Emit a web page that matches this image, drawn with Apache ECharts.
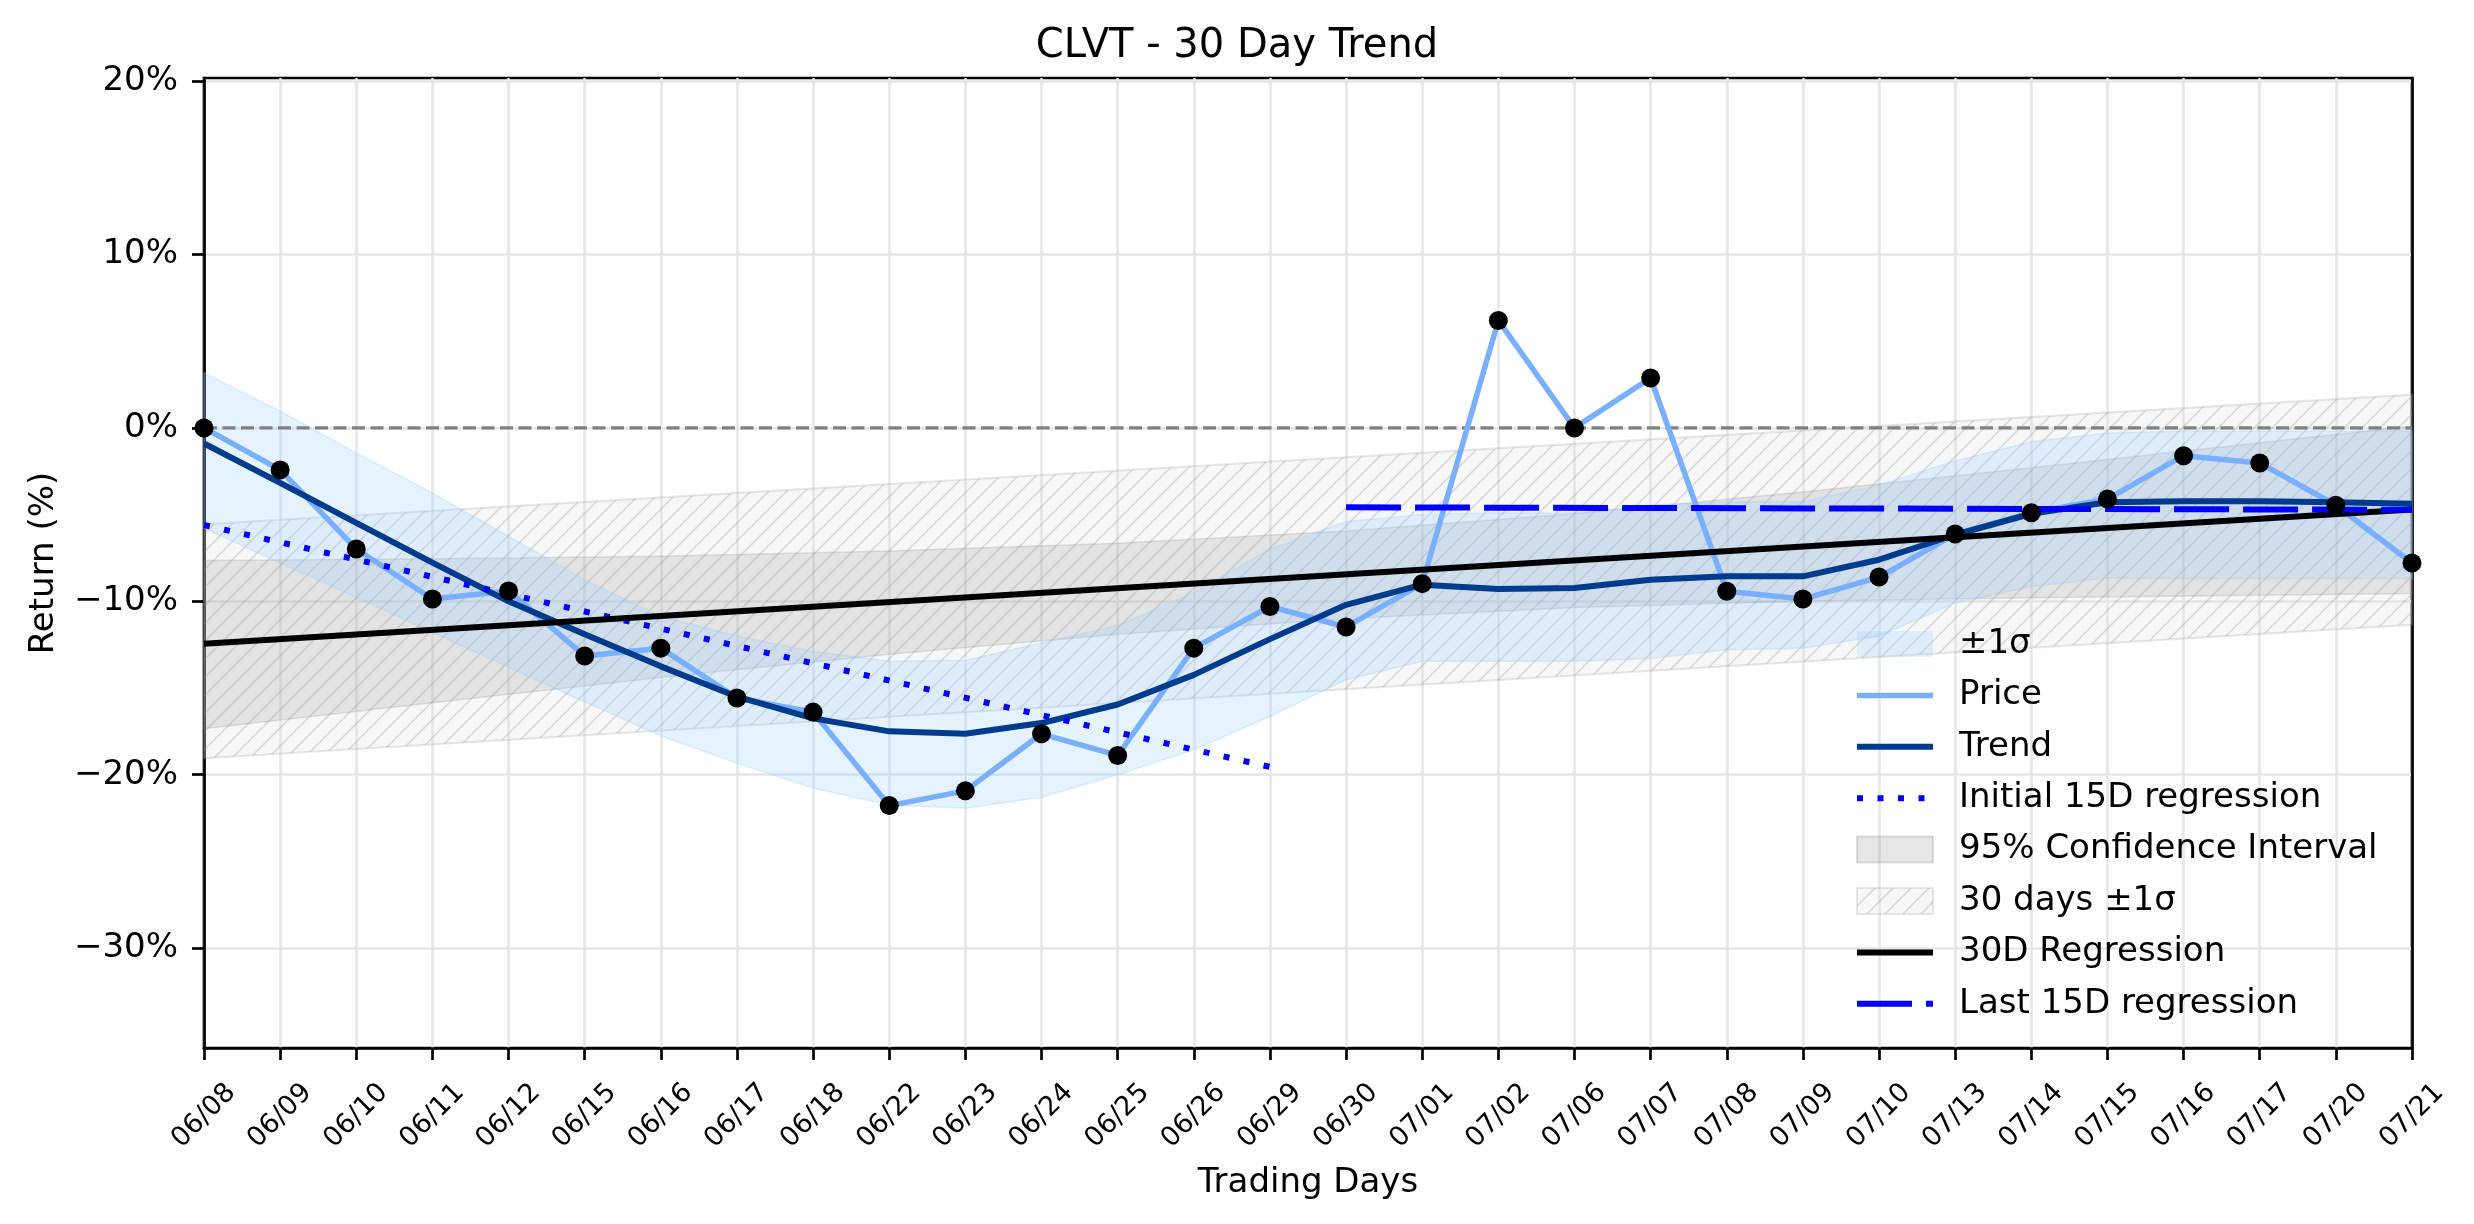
<!DOCTYPE html>
<html>
<head>
<meta charset="utf-8">
<title>CLVT - 30 Day Trend</title>
<script src="https://cdn.jsdelivr.net/npm/echarts@6.0.0/dist/echarts.min.js"></script>
<style>
  html, body { margin: 0; padding: 0; background: #fff; }
  #chart { width: 2474px; height: 1224px; }
</style>
</head>
<body>
<div id="chart"></div>
<script>
// trading days on the x axis
const dates = ['06/08', '06/09', '06/10', '06/11', '06/12', '06/15', '06/16', '06/17', '06/18', '06/22',
  '06/23', '06/24', '06/25', '06/26', '06/29', '06/30', '07/01', '07/02', '07/06', '07/07',
  '07/08', '07/09', '07/10', '07/13', '07/14', '07/15', '07/16', '07/17', '07/20', '07/21'];

// return (%)
const price = [0, -2.42, -6.98, -9.87, -9.4, -13.15, -12.7, -15.58, -16.39, -21.78,
  -20.93, -17.64, -18.89, -12.7, -10.3, -11.48, -8.98, 6.2, 0, 2.88,
  -9.42, -9.87, -8.6, -6.12, -4.89, -4.1, -1.6, -2.02, -4.46, -7.79];
const trend = [-0.9, -3.17, -5.48, -7.77, -10.0, -11.9, -13.75, -15.5, -16.75, -17.5,
  -17.64, -17.02, -15.95, -14.24, -12.18, -10.2, -9.04, -9.29, -9.23, -8.75,
  -8.56, -8.56, -7.6, -6.16, -4.95, -4.29, -4.23, -4.23, -4.29, -4.37];

// +-1 sigma band around the trend
const sigmaHigh = [3.17, 0.96, -1.44, -3.75, -6.25, -8.75, -10.87, -12.0, -12.9, -13.45,
  -13.4, -12.4, -11.4, -9.5, -7.0, -5.4, -5.0, -4.9, -4.9, -4.45,
  -4.26, -4.26, -3.3, -1.9, -0.8, -0.29, -0.19, -0.19, -0.19, -0.19];
const sigmaLow = [-5.77, -7.8, -9.77, -11.8, -13.8, -15.8, -17.75, -19.33, -20.77, -21.74,
  -21.93, -21.3, -20.0, -18.56, -16.64, -14.52, -13.46, -13.46, -13.46, -13.3,
  -12.8, -12.7, -12.0, -10.1, -9.15, -8.66, -8.7, -8.7, -8.7, -8.7];

// 95% confidence interval of the 30D regression (sampled days)
const ciIdx = [0, 3, 6, 9, 12, 15, 18, 21, 24, 27, 29];
const ciLow = [-17.35, -15.85, -14.4, -13.05, -11.9, -11.0, -10.35, -10.0, -9.8, -9.65, -9.55];
const ciHigh = [-7.65, -7.55, -7.4, -7.1, -6.65, -5.95, -4.95, -3.7, -2.3, -0.85, 0.1];

// 30 days +-1 sigma channel
const chanIdx = [0, 29];
const chanLow = [-19.05, -11.35];
const chanHigh = [-5.55, 1.92];

// regressions
const reg30Idx = [0, 29];
const reg30Val = [-12.45, -4.7];
const init15Idx = [0, 14];
const init15Val = [-5.6, -19.55];
const last15Idx = [15, 29];
const last15Val = [-4.58, -4.72];

// zero reference line
const zeroIdx = [0, 29];
const zeroVal = [0, 0];

const yTicks = [-30, -20, -10, 0, 10, 20];
const yMin = -35.76;
const yMax = 20.18;

const FONT = 'DejaVu Sans';

function pairs(xs, ys) {
  return xs.map((x, i) => [x, ys[i]]);
}

function hatch() {
  const c = document.createElement('canvas');
  c.width = 18; c.height = 18;
  const g = c.getContext('2d');
  g.fillStyle = 'rgba(225,225,225,0.25)';
  g.fillRect(0, 0, 18, 18);
  g.strokeStyle = 'rgba(150,150,150,0.3)';
  g.lineWidth = 1.6;
  g.beginPath();
  g.moveTo(-2, 20); g.lineTo(20, -2);
  g.moveTo(-2, 2); g.lineTo(2, -2);
  g.moveTo(16, 20); g.lineTo(20, 16);
  g.stroke();
  return { image: c, repeat: 'repeat' };
}
const hatchFill = hatch();

// polygon between a low and a high edge
function band(xs, lo, hi, style) {
  return function (params, api) {
    const pts = [];
    for (let i = 0; i < xs.length; i++) pts.push(api.coord([xs[i], hi[i]]));
    for (let i = xs.length - 1; i >= 0; i--) pts.push(api.coord([xs[i], lo[i]]));
    return { type: 'polygon', shape: { points: pts }, style: style, silent: true };
  };
}

const dayIdx = dates.map((d, i) => i);

const chart = echarts.init(document.getElementById('chart'));

const option = {
  animation: false,
  backgroundColor: '#fff',
  textStyle: { fontFamily: FONT },
  title: {
    text: 'CLVT - 30 Day Trend',
    left: 'center',
    top: 26,
    padding: [0, 0, 0, 140],
    textStyle: { fontFamily: FONT, fontSize: 40, fontWeight: 'normal', color: '#000', lineHeight: 42 }
  },
  grid: {
    left: 204, right: 62, top: 78, bottom: 176,
    show: true, borderColor: '#000', borderWidth: 2.7,
    outerBoundsMode: 'none'
  },
  legend: {
    orient: 'vertical',
    left: 1854, top: 627,
    padding: 0,
    itemWidth: 76, itemHeight: 26, itemGap: 17.4,
    itemStyle: { opacity: 0 },
    textStyle: { fontFamily: FONT, fontSize: 34, color: '#000', lineHeight: 30, padding: [0, 0, 0, 21] },
    selectedMode: false,
    data: [
      { name: '±1σ', icon: 'rect', itemStyle: { color: 'rgba(153,204,255,0.25)', opacity: 1, borderWidth: 0 } },
      { name: 'Price', lineStyle: { width: 5.5 } },
      { name: 'Trend', lineStyle: { width: 6 } },
      { name: 'Initial 15D regression', lineStyle: { width: 6 } },
      { name: '95% Confidence Interval', icon: 'rect',
        itemStyle: { color: 'rgba(128,128,128,0.2)', borderColor: 'rgba(128,128,128,0.25)', borderWidth: 2, opacity: 1 } },
      { name: '30 days ±1σ', icon: 'rect',
        itemStyle: { color: hatchFill, borderColor: 'rgba(160,160,160,0.25)', borderWidth: 2, opacity: 1 } },
      { name: '30D Regression', lineStyle: { width: 6 } },
      { name: 'Last 15D regression', lineStyle: { width: 6 } }
    ]
  },
  xAxis: {
    type: 'category',
    data: dates,
    boundaryGap: false,
    name: 'Trading Days',
    nameLocation: 'middle',
    nameGap: 118,
    nameTextStyle: { fontFamily: FONT, fontSize: 34, color: '#000' },
    axisLine: { show: true, onZero: false, lineStyle: { color: '#000', width: 2.7 } },
    axisTick: { show: true, interval: 0, length: 12, lineStyle: { color: '#000', width: 2.7 } },
    axisLabel: {
      interval: 0, rotate: 45, align: 'center', verticalAlign: 'middle', margin: 68,
      fontFamily: FONT, fontSize: 27, color: '#000'
    },
    splitLine: { show: true, interval: 0, lineStyle: { color: '#e6e6e6', width: 2.5 } }
  },
  yAxis: [
    {
      type: 'value',
      min: yMin,
      max: yMax,
      name: 'Return (%)',
      nameLocation: 'middle',
      nameGap: 143,
      nameTextStyle: { fontFamily: FONT, fontSize: 34, color: '#000' },
      axisLine: { show: true, onZero: false, lineStyle: { color: '#000', width: 2.7 } },
      axisTick: { show: true, length: 12, customValues: yTicks, lineStyle: { color: '#000', width: 2.7 } },
      axisLabel: {
        customValues: yTicks,
        margin: 26,
        fontFamily: FONT, fontSize: 34, color: '#000',
        formatter: v => (v < 0 ? '\u2212' + Math.abs(v) : v) + '%'
      },
      splitLine: { show: true, lineStyle: { color: '#e6e6e6', width: 2.5 } }
    },
    {
      // right spine only
      type: 'value', position: 'right',
      min: yMin, max: yMax,
      axisLine: { show: true, onZero: false, lineStyle: { color: '#000', width: 2.7 } },
      axisTick: { show: false },
      axisLabel: { show: false },
      splitLine: { show: false }
    }
  ],
  series: [
    {
      name: '30 days ±1σ', type: 'custom', silent: true,
      itemStyle: { color: '#eeeeee' },
      renderItem: band(chanIdx, chanLow, chanHigh,
        { fill: hatchFill, stroke: 'rgba(160,160,160,0.25)', lineWidth: 2 }),
      data: [[0, 0]]
    },
    {
      name: '95% Confidence Interval', type: 'custom', silent: true,
      itemStyle: { color: '#cccccc' },
      renderItem: band(ciIdx, ciLow, ciHigh,
        { fill: 'rgba(128,128,128,0.17)', stroke: 'rgba(128,128,128,0.2)', lineWidth: 1.5 }),
      data: [[0, 0]]
    },
    {
      name: '±1σ', type: 'custom', silent: true,
      itemStyle: { color: '#e6f3ff' },
      renderItem: band(dayIdx, sigmaLow, sigmaHigh,
        { fill: 'rgba(153,204,255,0.25)', stroke: 'rgba(153,204,255,0.3)', lineWidth: 1.5 }),
      data: [[0, 0]]
    },
    {
      name: 'zero', type: 'line', data: pairs(zeroIdx, zeroVal), symbol: 'none', silent: true,
      lineStyle: { color: '#808080', width: 3.3, type: [13, 5.5] }
    },
    {
      name: 'Price', type: 'line', data: price, symbol: 'none', silent: true,
      lineStyle: { color: '#78b0ff', width: 5.5 },
      itemStyle: { color: '#78b0ff' }
    },
    {
      name: 'Trend', type: 'line', data: trend, symbol: 'none', silent: true,
      lineStyle: { color: '#003b8e', width: 6 },
      itemStyle: { color: '#003b8e' }
    },
    {
      name: 'Initial 15D regression', type: 'line', data: pairs(init15Idx, init15Val), symbol: 'none', silent: true,
      lineStyle: { color: '#0000ff', width: 6, type: [6, 14.5] },
      itemStyle: { color: '#0000ff' }
    },
    {
      name: '30D Regression', type: 'line', data: pairs(reg30Idx, reg30Val), symbol: 'none', silent: true,
      lineStyle: { color: '#000000', width: 6 },
      itemStyle: { color: '#000000' }
    },
    {
      name: 'Last 15D regression', type: 'line', data: pairs(last15Idx, last15Val), symbol: 'none', silent: true,
      lineStyle: { color: '#0000ff', width: 6, type: [55, 14] },
      itemStyle: { color: '#0000ff' }
    },
    {
      name: 'dots', type: 'scatter', data: price, symbolSize: 19, silent: true, z: 5,
      itemStyle: { color: '#000000', opacity: 1 }
    }
  ]
};

chart.setOption(option);
</script>
</body>
</html>
